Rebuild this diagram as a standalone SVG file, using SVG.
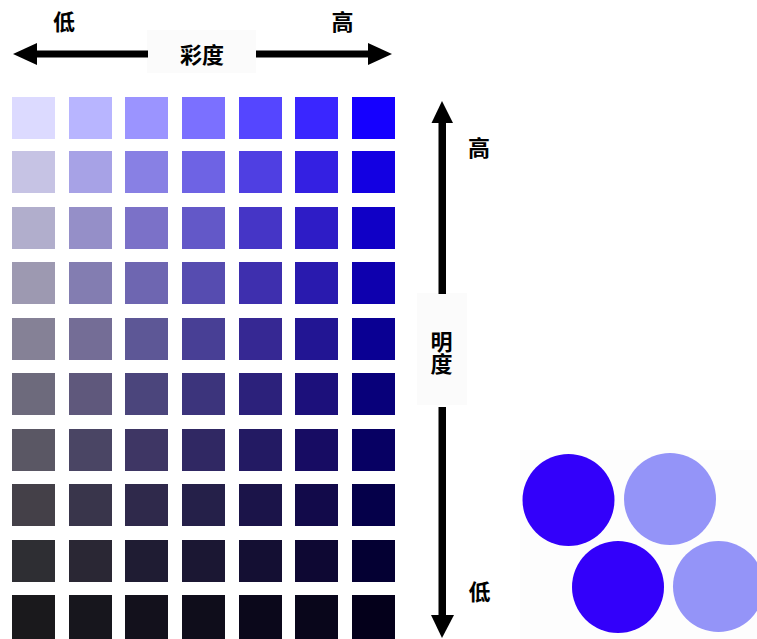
<svg xmlns="http://www.w3.org/2000/svg" width="757" height="639" viewBox="0 0 757 639">
<style>
text{font-family:"Noto Sans CJK SC","Noto Sans CJK JP",sans-serif;font-weight:bold;font-size:22px;fill:#000;text-anchor:middle}
.lbl{fill:#fbfbfb}
.v{writing-mode:vertical-rl;glyph-orientation-vertical:0}
</style>
<rect width="757" height="639" fill="#fff"/>
<g id="grid">
<g transform="translate(0,97)">
<rect x="12" width="43" height="42" fill="#DCDAFF"/><rect x="69" width="43" height="42" fill="#B8B5FF"/><rect x="125" width="43" height="42" fill="#9B94FF"/><rect x="182" width="43" height="42" fill="#7B70FF"/><rect x="239" width="43" height="42" fill="#5546FF"/><rect x="295" width="43" height="42" fill="#3A26FF"/><rect x="352" width="43" height="42" fill="#1500FF"/>
</g>
<g transform="translate(0,151)">
<rect x="12" width="43" height="42" fill="#C6C3E4"/><rect x="69" width="43" height="42" fill="#A7A2E6"/><rect x="125" width="43" height="42" fill="#8880E4"/><rect x="182" width="43" height="42" fill="#6E63E4"/><rect x="239" width="43" height="42" fill="#4F3FE2"/><rect x="295" width="43" height="42" fill="#3420E2"/><rect x="352" width="43" height="42" fill="#1300E2"/>
</g>
<g transform="translate(0,207)">
<rect x="12" width="43" height="42" fill="#B1AECC"/><rect x="69" width="43" height="42" fill="#958FC8"/><rect x="125" width="43" height="42" fill="#7B71C8"/><rect x="182" width="43" height="42" fill="#6358C8"/><rect x="239" width="43" height="42" fill="#4535C6"/><rect x="295" width="43" height="42" fill="#2E1CC6"/><rect x="352" width="43" height="42" fill="#1000C6"/>
</g>
<g transform="translate(0,262)">
<rect x="12" width="43" height="42" fill="#9D99B1"/><rect x="69" width="43" height="42" fill="#837DB1"/><rect x="125" width="43" height="42" fill="#6E66B1"/><rect x="182" width="43" height="42" fill="#564CB0"/><rect x="239" width="43" height="42" fill="#3E2FAE"/><rect x="295" width="43" height="42" fill="#291AAE"/><rect x="352" width="43" height="42" fill="#0E00AE"/>
</g>
<g transform="translate(0,318)">
<rect x="12" width="43" height="42" fill="#858196"/><rect x="69" width="43" height="42" fill="#746D96"/><rect x="125" width="43" height="42" fill="#5D5796"/><rect x="182" width="43" height="42" fill="#483F95"/><rect x="239" width="43" height="42" fill="#362893"/><rect x="295" width="43" height="42" fill="#221593"/><rect x="352" width="43" height="42" fill="#0A0093"/>
</g>
<g transform="translate(0,373)">
<rect x="12" width="43" height="42" fill="#6D6A7C"/><rect x="69" width="43" height="42" fill="#5F587C"/><rect x="125" width="43" height="42" fill="#4B457C"/><rect x="182" width="43" height="42" fill="#3C347C"/><rect x="239" width="43" height="42" fill="#2C217B"/><rect x="295" width="43" height="42" fill="#1C107B"/><rect x="352" width="43" height="42" fill="#08007A"/>
</g>
<g transform="translate(0,429)">
<rect x="12" width="43" height="42" fill="#5A5764"/><rect x="69" width="43" height="42" fill="#4A4564"/><rect x="125" width="43" height="42" fill="#3E3664"/><rect x="182" width="43" height="42" fill="#302863"/><rect x="239" width="43" height="42" fill="#231A63"/><rect x="295" width="43" height="42" fill="#170C63"/><rect x="352" width="43" height="42" fill="#070063"/>
</g>
<g transform="translate(0,484)">
<rect x="12" width="43" height="42" fill="#444048"/><rect x="69" width="43" height="42" fill="#39354B"/><rect x="125" width="43" height="42" fill="#2F294B"/><rect x="182" width="43" height="42" fill="#252049"/><rect x="239" width="43" height="42" fill="#1B1449"/><rect x="295" width="43" height="42" fill="#120A4A"/><rect x="352" width="43" height="42" fill="#05004A"/>
</g>
<g transform="translate(0,540)">
<rect x="12" width="43" height="42" fill="#2E2E33"/><rect x="69" width="43" height="42" fill="#2A2734"/><rect x="125" width="43" height="42" fill="#1F1C33"/><rect x="182" width="43" height="42" fill="#1B1733"/><rect x="239" width="43" height="42" fill="#140F33"/><rect x="295" width="43" height="42" fill="#0E0833"/><rect x="352" width="43" height="42" fill="#040033"/>
</g>
<g transform="translate(0,595)">
<rect x="12" width="43" height="44" fill="#1A191C"/><rect x="69" width="43" height="44" fill="#17161D"/><rect x="125" width="43" height="44" fill="#13111C"/><rect x="182" width="43" height="44" fill="#0F0D1B"/><rect x="239" width="43" height="44" fill="#0B081B"/><rect x="295" width="43" height="44" fill="#09061B"/><rect x="352" width="43" height="44" fill="#04001B"/>
</g>
</g>
<g id="saturation-axis">
<rect class="lbl" x="147" y="30" width="109" height="43"/>
<rect x="34" y="50.5" width="114" height="7" fill="#000"/>
<polygon points="13,54 37,43 37,65" fill="#000"/>
<rect x="256" y="50.5" width="114" height="7" fill="#000"/>
<polygon points="392,54 368,43 368,65" fill="#000"/>
<text x="202" y="63">彩度</text>
<text x="64" y="30">低</text>
<text x="342.5" y="30">高</text>
</g>
<g id="brightness-axis">
<rect class="lbl" x="417" y="293" width="50" height="112"/>
<rect x="438.5" y="120" width="7.5" height="174" fill="#000"/>
<polygon points="442,101 431.5,123 453,123" fill="#000"/>
<rect x="438.5" y="407" width="7.5" height="210" fill="#000"/>
<polygon points="442,638 431,615 454,615" fill="#000"/>
<text class="v" x="441.5" y="353">明度</text>
<text x="479" y="156">高</text>
<text x="479.5" y="600">低</text>
</g>
<g id="circles">
<rect x="520" y="450" width="237" height="189" fill="#fdfdfd"/>
<circle cx="568.5" cy="500" r="46" fill="#3300FA"/>
<circle cx="670" cy="499" r="46" fill="#9494F8"/>
<circle cx="618" cy="587" r="46" fill="#3300FA"/>
<circle cx="718.5" cy="586.5" r="45.5" fill="#9494F8"/>
</g>
</svg>
